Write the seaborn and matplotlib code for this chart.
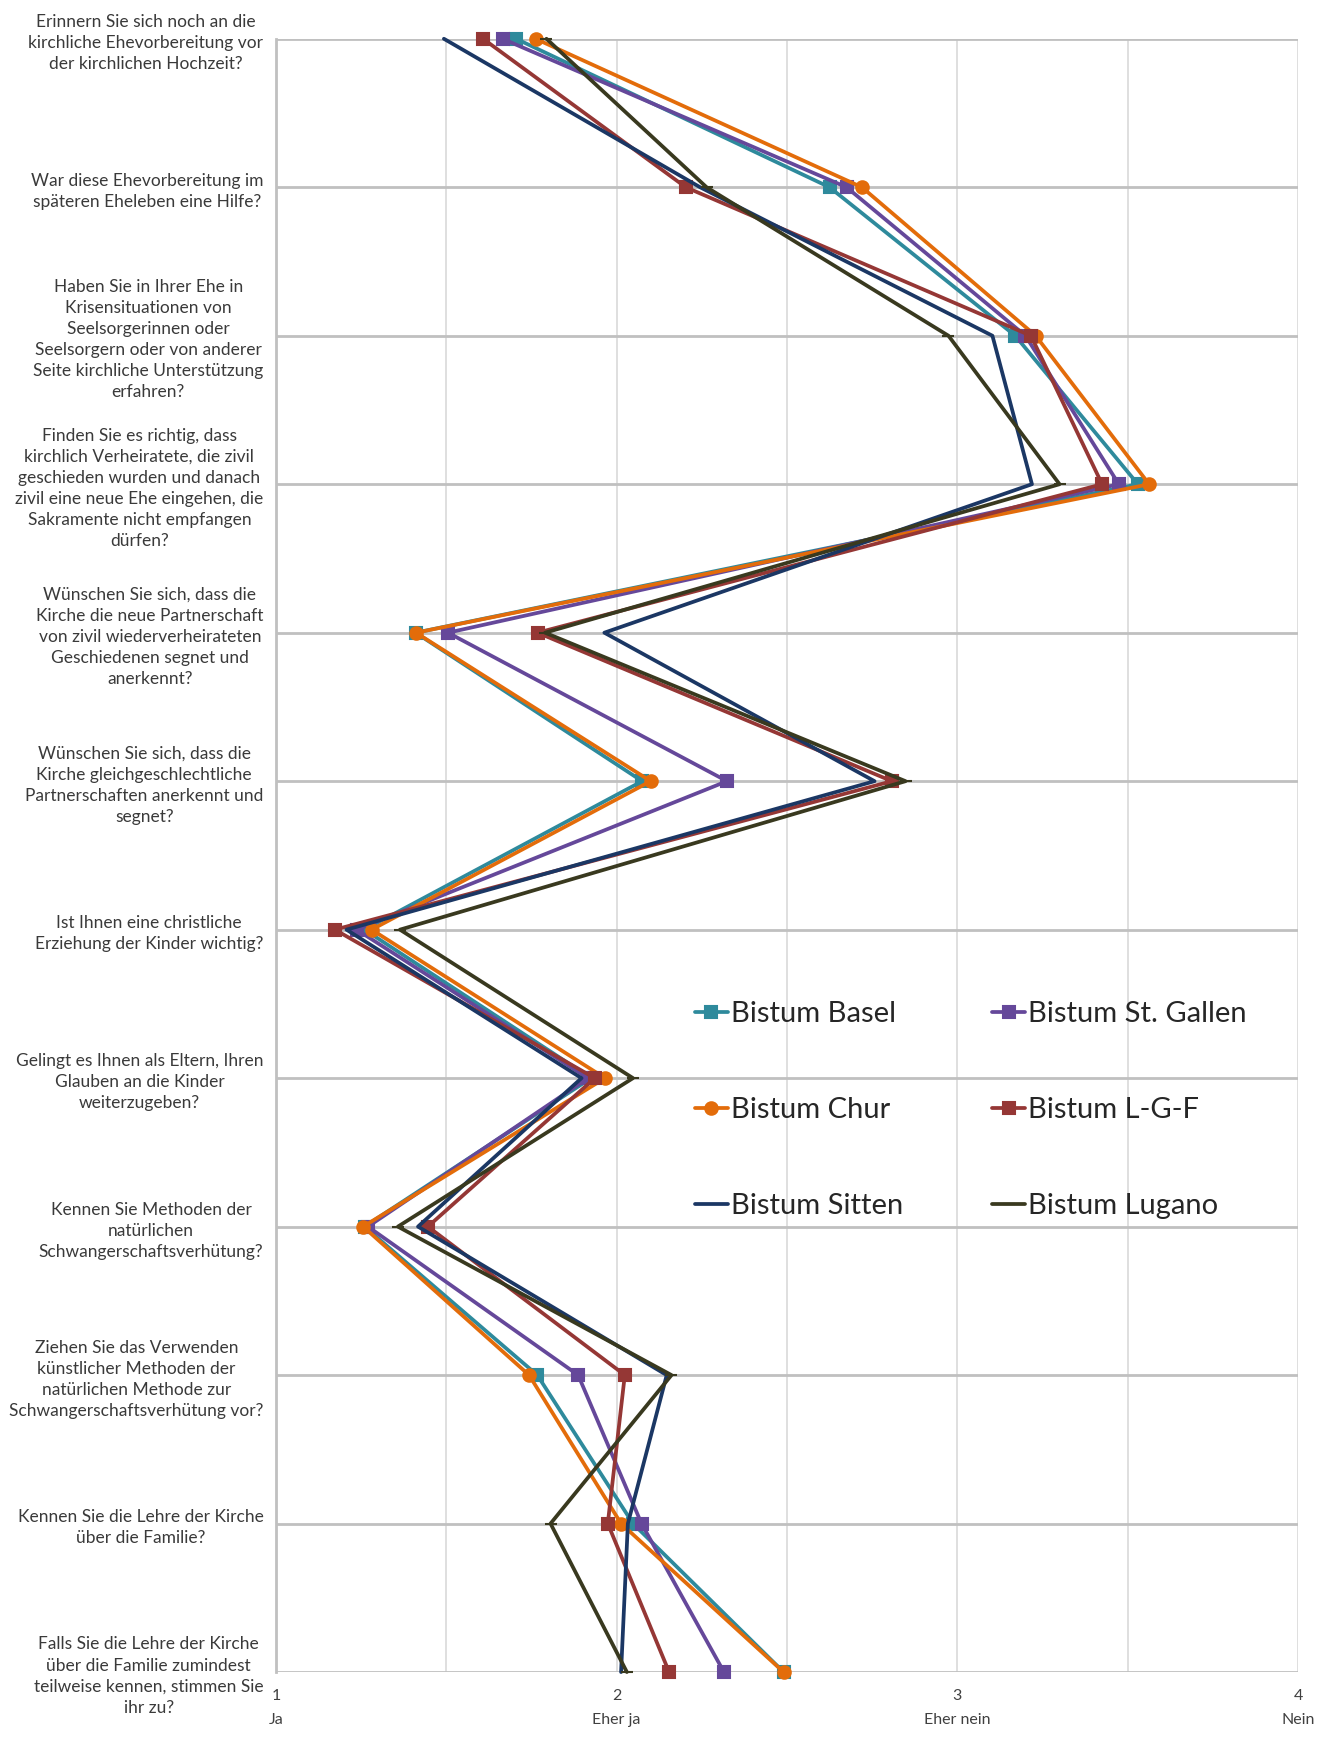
import matplotlib
matplotlib.use("Agg")
import matplotlib.pyplot as plt
import numpy as np
import pandas as pd
import seaborn as sns

# Survey questions (top to bottom)
questions = [
    "Erinnern Sie sich noch an die\nkirchliche Ehevorbereitung vor\nder kirchlichen Hochzeit?",
    "War diese Ehevorbereitung im\nspäteren Eheleben eine Hilfe?",
    "Haben Sie in Ihrer Ehe in\nKrisensituationen von\nSeelsorgerinnen oder\nSeelsorgern oder von anderer\nSeite kirchliche Unterstützung\nerfahren?",
    "Finden Sie es richtig, dass\nkirchlich Verheiratete, die zivil\ngeschieden wurden und danach\nzivil eine neue Ehe eingehen, die\nSakramente nicht empfangen\ndürfen?",
    "Wünschen Sie sich, dass die\nKirche die neue Partnerschaft\nvon zivil wiederverheirateten\nGeschiedenen segnet und\nanerkennt?",
    "Wünschen Sie sich, dass die\nKirche gleichgeschlechtliche\nPartnerschaften anerkennt und\nsegnet?",
    "Ist Ihnen eine christliche\nErziehung der Kinder wichtig?",
    "Gelingt es Ihnen als Eltern, Ihren\nGlauben an die Kinder\nweiterzugeben?",
    "Kennen Sie Methoden der\nnatürlichen\nSchwangerschaftsverhütung?",
    "Ziehen Sie das Verwenden\nkünstlicher Methoden der\nnatürlichen Methode zur\nSchwangerschaftsverhütung vor?",
    "Kennen Sie die Lehre der Kirche\nüber die Familie?",
    "Falls Sie die Lehre der Kirche\nüber die Familie zumindest\nteilweise kennen, stimmen Sie\nihr zu?",
]

# Answer scale
scale_values = [1, 2, 3, 4]
scale_labels = ["1\nJa", "2\nEher ja", "3\nEher nein", "4\nNein"]

# Mean answers per diocese
basel     = [1.705, 2.625, 3.17, 3.53, 1.41, 2.075, 1.26, 1.925, 1.26, 1.767, 2.048, 2.49]
st_gallen = [1.665, 2.675, 3.20, 3.474, 1.505, 2.324, 1.237, 1.916, 1.27, 1.887, 2.073, 2.315]
chur      = [1.762, 2.72, 3.23, 3.563, 1.411, 2.10, 1.281, 1.966, 1.256, 1.743, 2.013, 2.49]
lgf       = [1.608, 2.203, 3.216, 3.425, 1.768, 2.808, 1.173, 1.936, 1.446, 2.024, 1.974, 2.154]
sitten    = [1.493, 2.245, 3.103, 3.219, 1.964, 2.757, 1.207, 1.897, 1.417, 2.147, 2.033, 2.013]
lugano    = [1.794, 2.264, 2.974, 3.30, 1.79, 2.848, 1.364, 2.048, 1.358, 2.161, 1.806, 2.03]

series_names = ["Bistum Basel", "Bistum St. Gallen", "Bistum Chur",
                "Bistum L-G-F", "Bistum Sitten", "Bistum Lugano"]
series_values = [basel, st_gallen, chur, lgf, sitten, lugano]

styles = {
    "Bistum Basel":      dict(color="#2E8A9C", marker="s", ms=9),
    "Bistum St. Gallen": dict(color="#65489A", marker="s", ms=9),
    "Bistum Chur":       dict(color="#E36C0A", marker="o", ms=9),
    "Bistum L-G-F":      dict(color="#953735", marker="s", ms=9),
    "Bistum Sitten":     dict(color="#1B3764", marker=None, ms=0),
    "Bistum Lugano":     dict(color="#39391F", marker="_", ms=8),
}

pos = np.arange(len(questions))
df = pd.concat(
    [pd.DataFrame({"pos": pos, "Wert": v, "Bistum": n})
     for n, v in zip(series_names, series_values)],
    ignore_index=True,
)

sns.set_style("white")
plt.rcParams["font.family"] = ["Lato", "DejaVu Sans"]

fig = plt.figure(figsize=(13.26, 17.39), dpi=100)
ax = fig.add_axes([0.2081, 0.0385, 0.7708, 0.9392])

for name in series_names:
    st = styles[name]
    sub = df[df["Bistum"] == name]
    kw = dict(marker=st["marker"], markersize=st["ms"],
              markeredgecolor=st["color"], markeredgewidth=1.5) if st["marker"] else {}
    sns.lineplot(data=sub, x="Wert", y="pos", sort=False, estimator=None,
                 ax=ax, color=st["color"], linewidth=2.7, label=name,
                 clip_on=False, zorder=3, **kw)

ax.set_xlim(1, 4)
ax.set_ylim(len(questions) - 1, 0)
ax.set_xlabel("")
ax.set_ylabel("")

# Grid
for xv in np.arange(1.5, 4.01, 0.5):
    ax.axvline(xv, color="#D9D9D9", lw=1.2, zorder=0)
for yv in pos:
    ax.axhline(yv, color="#C0C0C0", lw=2.0, zorder=1)

ax.set_xticks(scale_values)
ax.set_xticklabels(scale_labels, fontsize=11.5, color="#404040", linespacing=1.9)
ax.tick_params(axis="x", length=0, pad=12)

ax.set_yticks(pos)
ax.set_yticklabels(questions, fontsize=12.5, color="#3A3A3A")
for lbl in ax.get_yticklabels():
    lbl.set_multialignment("center")
    lbl.set_linespacing(1.39)
ax.tick_params(axis="y", length=4, width=1.5, color="#C0C0C0", pad=5)

for s in ["top", "right", "bottom"]:
    ax.spines[s].set_visible(False)
ax.spines["left"].set_color("#C0C0C0")
ax.spines["left"].set_linewidth(2.0)

# Legend: two columns, three rows
h, l = ax.get_legend_handles_labels()
order = ["Bistum Basel", "Bistum Chur", "Bistum Sitten",
         "Bistum St. Gallen", "Bistum L-G-F", "Bistum Lugano"]
hl = dict(zip(l, h))
ax.legend([hl[k] for k in order], order, loc="upper left",
          bbox_to_anchor=(0.524, 0.4241), bbox_transform=fig.transFigure,
          ncol=2, frameon=False, fontsize=21, handlelength=1.13,
          handletextpad=0.1, columnspacing=3.07, labelspacing=2.4,
          borderpad=0, borderaxespad=0)
for t in ax.get_legend().get_texts():
    t.set_color("#262626")

fig.savefig("out.png", dpi=100, facecolor="white")
